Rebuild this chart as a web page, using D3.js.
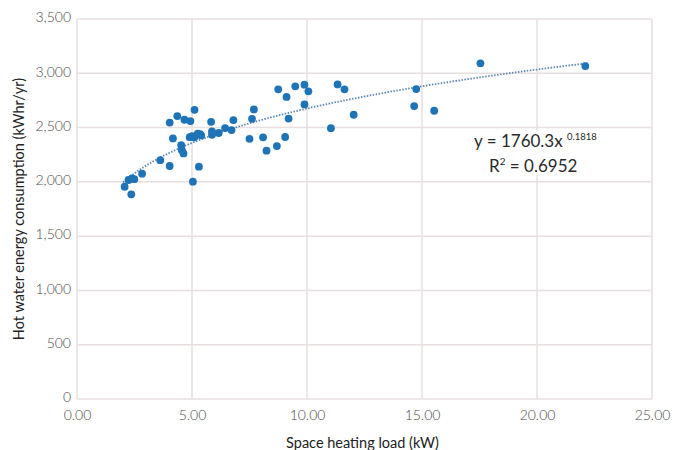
<!DOCTYPE html>
<html>
<head>
<meta charset="utf-8">
<script src="https://cdn.jsdelivr.net/npm/d3@7"></script>
<style>
body { margin: 0; background: #fff; }
text { font-family: Lato, "Open Sans", sans-serif; }
</style>
</head>
<body>
<script>
var w = 684;
var h = 450;

// space heating load (kW)
var loadKW = [2.07, 2.36, 2.24, 2.39, 2.49, 2.83, 3.62, 4.03, 4.03, 4.17,
    4.36, 4.53, 4.56, 4.63, 4.67, 4.93, 4.9, 5.0, 5.1, 5.04, 5.11, 5.3,
    5.25, 5.35, 5.4, 5.83, 5.87, 5.87, 6.16, 6.44, 6.72, 6.8, 7.5, 7.61,
    7.69, 8.09, 8.24, 8.69, 8.75, 9.05, 9.11, 9.2, 9.49, 9.89, 9.89, 10.06,
    11.04, 11.33, 11.63, 12.03, 14.66, 14.75, 15.53, 17.54, 22.1];
// hot water energy consumption (kWhr/yr)
var hotWater = [1955, 1885, 2017, 2032, 2025, 2075, 2200, 2146, 2546, 2400,
    2606, 2337, 2292, 2262, 2572, 2560, 2412, 2420, 2410, 2002, 2663, 2140,
    2445, 2440, 2428, 2553, 2465, 2434, 2450, 2495, 2477, 2569, 2396, 2581,
    2667, 2410, 2287, 2330, 2852, 2413, 2782, 2583, 2880, 2895, 2713, 2834,
    2494, 2897, 2852, 2618, 2698, 2855, 2655, 3092, 3066];

var xTicks = [0, 5, 10, 15, 20, 25];
var yTicks = [0, 500, 1000, 1500, 2000, 2500, 3000, 3500];

// power trend fit
var fitA = 1760.3;
var fitB = 0.1818;
var fitR2 = 0.6952;

var pLeft = 77, pRight = 652, pTop = 19, pBottom = 399;

var x = d3.scaleLinear().domain([0, 25]).range([pLeft, pRight]);
var y = d3.scaleLinear().domain([0, 3500]).range([pBottom, pTop]);

var svg = d3.select("body")
    .append("svg")
    .attr("width", w)
    .attr("height", h);

// grid
svg.selectAll(".vgrid")
    .data(xTicks)
    .enter()
    .append("line")
    .attr("x1", function (d) { return x(d); })
    .attr("x2", function (d) { return x(d); })
    .attr("y1", pTop)
    .attr("y2", pBottom)
    .attr("stroke", "#e8dfdf")
    .attr("stroke-width", 1.5);

svg.selectAll(".hgrid")
    .data(yTicks)
    .enter()
    .append("line")
    .attr("x1", pLeft)
    .attr("x2", pRight)
    .attr("y1", function (d) { return y(d); })
    .attr("y2", function (d) { return y(d); })
    .attr("stroke", "#e8dfdf")
    .attr("stroke-width", 1.5);

// axes
var xAxis = svg.append("g")
    .attr("transform", "translate(0," + pBottom + ")")
    .call(d3.axisBottom(x).tickValues(xTicks).tickSize(0).tickPadding(11)
        .tickFormat(d3.format(".2f")));
xAxis.select(".domain").remove();
xAxis.selectAll("text").attr("font-size", 14).attr("font-weight", 300).attr("fill", "#4a4a4a");

var yAxis = svg.append("g")
    .attr("transform", "translate(" + pLeft + ",0)")
    .call(d3.axisLeft(y).tickValues(yTicks).tickSize(0).tickPadding(6)
        .tickFormat(d3.format(",")));
yAxis.select(".domain").remove();
yAxis.selectAll("text").attr("font-size", 14).attr("font-weight", 300).attr("fill", "#4a4a4a")
    .attr("dy", "0.2em");

// trend line
var trend = d3.range(2.0, 22.25, 0.1).map(function (v) {
    return [v, fitA * Math.pow(v, fitB)];
});
svg.append("path")
    .datum(trend)
    .attr("d", d3.line()
        .x(function (d) { return x(d[0]); })
        .y(function (d) { return y(d[1]); }))
    .attr("fill", "none")
    .attr("stroke", "#5a86b5")
    .attr("stroke-width", 1.8)
    .attr("stroke-dasharray", "1.5,1.5");

// points
svg.selectAll("circle")
    .data(loadKW)
    .enter()
    .append("circle")
    .attr("cx", function (d) { return x(d); })
    .attr("cy", function (d, i) { return y(hotWater[i]); })
    .attr("r", 3.9)
    .attr("fill", "#1f73b7");

// equation label
svg.append("rect")
    .attr("x", 468)
    .attr("y", 131)
    .attr("width", 145)
    .attr("height", 44)
    .attr("fill", "#fff");

var eq = svg.append("text")
    .attr("x", 474)
    .attr("y", 147)
    .attr("font-size", 17)
    .attr("fill", "#2a2a2a");
eq.append("tspan").text("y = " + fitA + "x ");
eq.append("tspan").attr("dy", -7).attr("font-size", 9.5).text(fitB);

var r2 = svg.append("text")
    .attr("x", 489)
    .attr("y", 172)
    .attr("font-size", 17)
    .attr("fill", "#2a2a2a");
r2.append("tspan").text("R");
r2.append("tspan").attr("dy", -7).attr("font-size", 10).text("2");
r2.append("tspan").attr("dy", 7).text(" = " + fitR2);

// axis titles
svg.append("text")
    .attr("transform", "translate(24," + ((pTop + pBottom) / 2) + ") rotate(-90)")
    .attr("text-anchor", "middle")
    .attr("font-size", 14.5)
    .attr("fill", "#222")
    .text("Hot water energy consumption (kWhr/yr)");

svg.append("text")
    .attr("x", (pLeft + pRight) / 2 - 2)
    .attr("y", 448)
    .attr("text-anchor", "middle")
    .attr("font-size", 14.5)
    .attr("fill", "#222")
    .text("Space heating load (kW)");
</script>
</body>
</html>
